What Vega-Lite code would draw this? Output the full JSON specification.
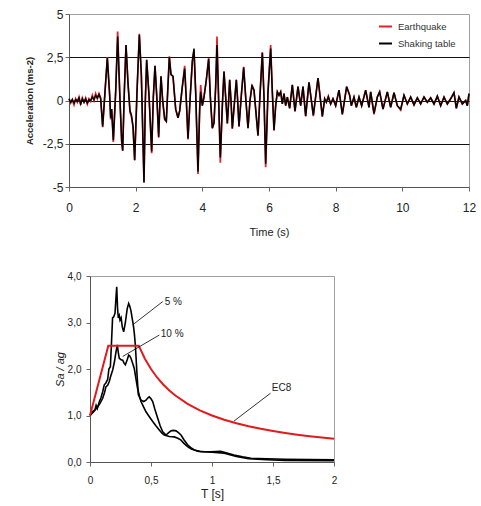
{
  "$schema": "https://vega.github.io/schema/vega-lite/v6.json",
  "padding": {"left": 23, "top": 7, "right": 5, "bottom": 2},
  "background": "white",
  "columns": 1,
  "spacing": 32,
  "config": {
    "font": "Liberation Sans",
    "view": {"stroke": "#a0a0a0", "strokeWidth": 1},
    "axis": {"labelColor": "#222", "titleColor": "#222", "domainColor": "#555", "tickColor": "#666", "labelFont": "Liberation Sans", "titleFont": "Liberation Sans", "titleFontWeight": "normal"}
  },
  "datasets": {
    "acc": [
      {"t": 0.00, "Earthquake": 0.1, "Shaking table": 0.1},
      {"t": 0.05, "Earthquake": -0.15, "Shaking table": -0.1},
      {"t": 0.10, "Earthquake": 0.05, "Shaking table": 0.05},
      {"t": 0.15, "Earthquake": -0.25, "Shaking table": -0.15},
      {"t": 0.20, "Earthquake": 0.1, "Shaking table": 0.05},
      {"t": 0.25, "Earthquake": -0.1, "Shaking table": -0.05},
      {"t": 0.30, "Earthquake": 0.2, "Shaking table": 0.15},
      {"t": 0.35, "Earthquake": -0.25, "Shaking table": -0.2},
      {"t": 0.40, "Earthquake": 0.15, "Shaking table": 0.1},
      {"t": 0.45, "Earthquake": -0.1, "Shaking table": -0.1},
      {"t": 0.50, "Earthquake": 0.15, "Shaking table": 0.1},
      {"t": 0.55, "Earthquake": -0.2, "Shaking table": -0.15},
      {"t": 0.60, "Earthquake": 0.1, "Shaking table": 0.05},
      {"t": 0.65, "Earthquake": -0.05, "Shaking table": 0.0},
      {"t": 0.70, "Earthquake": 0.3, "Shaking table": 0.2},
      {"t": 0.75, "Earthquake": 0.0, "Shaking table": 0.05},
      {"t": 0.80, "Earthquake": 0.4, "Shaking table": 0.3},
      {"t": 0.85, "Earthquake": 0.1, "Shaking table": 0.15},
      {"t": 0.90, "Earthquake": 0.4, "Shaking table": 0.35},
      {"t": 0.95, "Earthquake": 0.15, "Shaking table": 0.1},
      {"t": 1.01, "Earthquake": -1.55, "Shaking table": -1.5},
      {"t": 1.08, "Earthquake": 0.5, "Shaking table": 0.5},
      {"t": 1.15, "Earthquake": 2.5, "Shaking table": 2.45},
      {"t": 1.22, "Earthquake": 0.3, "Shaking table": 0.3},
      {"t": 1.25, "Earthquake": -1.1, "Shaking table": -1.0},
      {"t": 1.28, "Earthquake": -0.5, "Shaking table": -0.5},
      {"t": 1.33, "Earthquake": -2.4, "Shaking table": -2.3},
      {"t": 1.40, "Earthquake": 0.5, "Shaking table": 0.5},
      {"t": 1.46, "Earthquake": 3.99, "Shaking table": 3.7},
      {"t": 1.53, "Earthquake": 0.0, "Shaking table": 0.0},
      {"t": 1.58, "Earthquake": -2.4, "Shaking table": -2.3},
      {"t": 1.61, "Earthquake": -2.9, "Shaking table": -2.9},
      {"t": 1.66, "Earthquake": 0.5, "Shaking table": 0.5},
      {"t": 1.71, "Earthquake": 3.2, "Shaking table": 3.2},
      {"t": 1.77, "Earthquake": 1.0, "Shaking table": 1.0},
      {"t": 1.83, "Earthquake": -0.7, "Shaking table": -0.6},
      {"t": 1.87, "Earthquake": -0.9, "Shaking table": -0.8},
      {"t": 1.92, "Earthquake": -1.5, "Shaking table": -1.5},
      {"t": 1.97, "Earthquake": -3.45, "Shaking table": -3.45},
      {"t": 2.04, "Earthquake": 0.5, "Shaking table": 0.5},
      {"t": 2.11, "Earthquake": 3.85, "Shaking table": 3.8},
      {"t": 2.17, "Earthquake": 1.5, "Shaking table": 1.5},
      {"t": 2.25, "Earthquake": -4.7, "Shaking table": -4.75},
      {"t": 2.29, "Earthquake": 0.0, "Shaking table": 0.0},
      {"t": 2.33, "Earthquake": 2.35, "Shaking table": 2.35},
      {"t": 2.40, "Earthquake": 0.3, "Shaking table": 0.3},
      {"t": 2.48, "Earthquake": -3.05, "Shaking table": -2.95},
      {"t": 2.53, "Earthquake": 0.2, "Shaking table": 0.2},
      {"t": 2.58, "Earthquake": 2.0, "Shaking table": 2.0},
      {"t": 2.64, "Earthquake": 0.0, "Shaking table": 0.0},
      {"t": 2.69, "Earthquake": -2.15, "Shaking table": -2.1},
      {"t": 2.73, "Earthquake": 0.0, "Shaking table": 0.0},
      {"t": 2.76, "Earthquake": 1.4, "Shaking table": 1.4},
      {"t": 2.81, "Earthquake": 0.0, "Shaking table": 0.0},
      {"t": 2.87, "Earthquake": -1.1, "Shaking table": -1.05},
      {"t": 2.92, "Earthquake": -1.2, "Shaking table": -1.2},
      {"t": 2.96, "Earthquake": 0.5, "Shaking table": 0.5},
      {"t": 3.01, "Earthquake": 2.55, "Shaking table": 2.5},
      {"t": 3.06, "Earthquake": 1.5, "Shaking table": 1.5},
      {"t": 3.12, "Earthquake": 1.4, "Shaking table": 1.4},
      {"t": 3.20, "Earthquake": -0.5, "Shaking table": -0.5},
      {"t": 3.27, "Earthquake": -1.0, "Shaking table": -1.0},
      {"t": 3.32, "Earthquake": -0.6, "Shaking table": -0.6},
      {"t": 3.40, "Earthquake": 0.8, "Shaking table": 0.8},
      {"t": 3.47, "Earthquake": 2.0, "Shaking table": 1.85},
      {"t": 3.52, "Earthquake": 0.0, "Shaking table": 0.0},
      {"t": 3.57, "Earthquake": -2.25, "Shaking table": -2.2},
      {"t": 3.63, "Earthquake": 0.0, "Shaking table": 0.0},
      {"t": 3.70, "Earthquake": 2.2, "Shaking table": 2.3},
      {"t": 3.75, "Earthquake": 2.9, "Shaking table": 3.0},
      {"t": 3.80, "Earthquake": 0.5, "Shaking table": 0.5},
      {"t": 3.87, "Earthquake": -4.25, "Shaking table": -4.1},
      {"t": 3.92, "Earthquake": -0.5, "Shaking table": -0.5},
      {"t": 3.95, "Earthquake": 0.9, "Shaking table": 0.5},
      {"t": 4.00, "Earthquake": -0.3, "Shaking table": -0.3},
      {"t": 4.05, "Earthquake": 0.2, "Shaking table": 0.2},
      {"t": 4.12, "Earthquake": 1.2, "Shaking table": 1.2},
      {"t": 4.19, "Earthquake": 2.45, "Shaking table": 2.4},
      {"t": 4.24, "Earthquake": 0.2, "Shaking table": 0.2},
      {"t": 4.30, "Earthquake": -1.6, "Shaking table": -1.6},
      {"t": 4.35, "Earthquake": -1.3, "Shaking table": -1.3},
      {"t": 4.40, "Earthquake": 0.8, "Shaking table": 0.8},
      {"t": 4.44, "Earthquake": 3.7, "Shaking table": 3.2},
      {"t": 4.49, "Earthquake": 0.0, "Shaking table": 0.0},
      {"t": 4.54, "Earthquake": -3.6, "Shaking table": -3.3},
      {"t": 4.60, "Earthquake": -0.3, "Shaking table": -0.3},
      {"t": 4.65, "Earthquake": 1.7, "Shaking table": 1.65},
      {"t": 4.70, "Earthquake": 0.2, "Shaking table": 0.2},
      {"t": 4.75, "Earthquake": -1.35, "Shaking table": -1.3},
      {"t": 4.78, "Earthquake": -0.4, "Shaking table": -0.4},
      {"t": 4.82, "Earthquake": 1.2, "Shaking table": 1.2},
      {"t": 4.86, "Earthquake": 0.0, "Shaking table": 0.0},
      {"t": 4.90, "Earthquake": -1.65, "Shaking table": -1.6},
      {"t": 4.96, "Earthquake": -0.2, "Shaking table": -0.2},
      {"t": 5.02, "Earthquake": 1.2, "Shaking table": 1.2},
      {"t": 5.06, "Earthquake": 0.0, "Shaking table": 0.0},
      {"t": 5.10, "Earthquake": -1.5, "Shaking table": -1.5},
      {"t": 5.17, "Earthquake": 0.3, "Shaking table": 0.3},
      {"t": 5.24, "Earthquake": 1.95, "Shaking table": 1.9},
      {"t": 5.30, "Earthquake": 0.2, "Shaking table": 0.2},
      {"t": 5.37, "Earthquake": -1.6, "Shaking table": -1.6},
      {"t": 5.43, "Earthquake": 0.0, "Shaking table": 0.0},
      {"t": 5.49, "Earthquake": 0.9, "Shaking table": 0.85},
      {"t": 5.55, "Earthquake": 0.6, "Shaking table": 0.6},
      {"t": 5.60, "Earthquake": -0.5, "Shaking table": -0.5},
      {"t": 5.67, "Earthquake": -2.05, "Shaking table": -2.0},
      {"t": 5.73, "Earthquake": 0.3, "Shaking table": 0.3},
      {"t": 5.80, "Earthquake": 2.8, "Shaking table": 2.75},
      {"t": 5.85, "Earthquake": 0.2, "Shaking table": 0.2},
      {"t": 5.90, "Earthquake": -3.85, "Shaking table": -3.65},
      {"t": 5.97, "Earthquake": 0.5, "Shaking table": 0.5},
      {"t": 6.05, "Earthquake": 3.2, "Shaking table": 3.0},
      {"t": 6.10, "Earthquake": 0.5, "Shaking table": 0.5},
      {"t": 6.15, "Earthquake": -1.75, "Shaking table": -1.7},
      {"t": 6.20, "Earthquake": -0.3, "Shaking table": -0.3},
      {"t": 6.25, "Earthquake": 0.5, "Shaking table": 0.5},
      {"t": 6.30, "Earthquake": 0.3, "Shaking table": 0.3},
      {"t": 6.35, "Earthquake": 0.5, "Shaking table": 0.5},
      {"t": 6.40, "Earthquake": -0.2, "Shaking table": -0.2},
      {"t": 6.45, "Earthquake": 0.4, "Shaking table": 0.4},
      {"t": 6.50, "Earthquake": -0.3, "Shaking table": -0.3},
      {"t": 6.55, "Earthquake": 0.2, "Shaking table": 0.2},
      {"t": 6.62, "Earthquake": -0.45, "Shaking table": -0.45},
      {"t": 6.70, "Earthquake": 0.9, "Shaking table": 0.9},
      {"t": 6.78, "Earthquake": -0.65, "Shaking table": -0.6},
      {"t": 6.87, "Earthquake": 0.8, "Shaking table": 0.8},
      {"t": 6.95, "Earthquake": -0.3, "Shaking table": -0.3},
      {"t": 7.02, "Earthquake": 0.8, "Shaking table": 0.8},
      {"t": 7.10, "Earthquake": -0.9, "Shaking table": -0.9},
      {"t": 7.20, "Earthquake": 1.05, "Shaking table": 1.05},
      {"t": 7.33, "Earthquake": -0.9, "Shaking table": -0.85},
      {"t": 7.47, "Earthquake": 1.3, "Shaking table": 1.3},
      {"t": 7.60, "Earthquake": -0.95, "Shaking table": -0.9},
      {"t": 7.67, "Earthquake": 0.1, "Shaking table": 0.1},
      {"t": 7.72, "Earthquake": -0.1, "Shaking table": -0.1},
      {"t": 7.78, "Earthquake": 0.25, "Shaking table": 0.2},
      {"t": 7.85, "Earthquake": -0.2, "Shaking table": -0.2},
      {"t": 7.92, "Earthquake": 0.1, "Shaking table": 0.1},
      {"t": 8.00, "Earthquake": -0.3, "Shaking table": -0.3},
      {"t": 8.10, "Earthquake": 0.6, "Shaking table": 0.6},
      {"t": 8.20, "Earthquake": -0.8, "Shaking table": -0.8},
      {"t": 8.33, "Earthquake": 0.8, "Shaking table": 0.8},
      {"t": 8.42, "Earthquake": 0.3, "Shaking table": 0.3},
      {"t": 8.47, "Earthquake": -0.3, "Shaking table": -0.3},
      {"t": 8.55, "Earthquake": 0.2, "Shaking table": 0.2},
      {"t": 8.62, "Earthquake": -0.4, "Shaking table": -0.4},
      {"t": 8.70, "Earthquake": 0.2, "Shaking table": 0.2},
      {"t": 8.78, "Earthquake": -0.3, "Shaking table": -0.3},
      {"t": 8.90, "Earthquake": 0.6, "Shaking table": 0.6},
      {"t": 9.00, "Earthquake": -0.4, "Shaking table": -0.4},
      {"t": 9.05, "Earthquake": 0.5, "Shaking table": 0.5},
      {"t": 9.15, "Earthquake": -0.8, "Shaking table": -0.75},
      {"t": 9.25, "Earthquake": 0.2, "Shaking table": 0.2},
      {"t": 9.32, "Earthquake": 0.5, "Shaking table": 0.5},
      {"t": 9.42, "Earthquake": -0.5, "Shaking table": -0.5},
      {"t": 9.55, "Earthquake": 0.5, "Shaking table": 0.5},
      {"t": 9.65, "Earthquake": -0.4, "Shaking table": -0.4},
      {"t": 9.75, "Earthquake": 0.45, "Shaking table": 0.45},
      {"t": 9.85, "Earthquake": -0.3, "Shaking table": -0.3},
      {"t": 9.95, "Earthquake": -0.55, "Shaking table": -0.5},
      {"t": 10.05, "Earthquake": 0.3, "Shaking table": 0.3},
      {"t": 10.15, "Earthquake": -0.2, "Shaking table": -0.2},
      {"t": 10.25, "Earthquake": 0.2, "Shaking table": 0.2},
      {"t": 10.35, "Earthquake": -0.25, "Shaking table": -0.25},
      {"t": 10.45, "Earthquake": 0.15, "Shaking table": 0.15},
      {"t": 10.55, "Earthquake": -0.2, "Shaking table": -0.2},
      {"t": 10.65, "Earthquake": 0.2, "Shaking table": 0.2},
      {"t": 10.75, "Earthquake": -0.1, "Shaking table": -0.1},
      {"t": 10.85, "Earthquake": 0.15, "Shaking table": 0.15},
      {"t": 10.95, "Earthquake": -0.2, "Shaking table": -0.2},
      {"t": 11.05, "Earthquake": 0.25, "Shaking table": 0.25},
      {"t": 11.15, "Earthquake": -0.3, "Shaking table": -0.3},
      {"t": 11.25, "Earthquake": 0.2, "Shaking table": 0.2},
      {"t": 11.35, "Earthquake": -0.2, "Shaking table": -0.2},
      {"t": 11.45, "Earthquake": 0.1, "Shaking table": 0.1},
      {"t": 11.55, "Earthquake": 0.45, "Shaking table": 0.45},
      {"t": 11.62, "Earthquake": -0.45, "Shaking table": -0.45},
      {"t": 11.70, "Earthquake": 0.2, "Shaking table": 0.2},
      {"t": 11.80, "Earthquake": -0.2, "Shaking table": -0.2},
      {"t": 11.90, "Earthquake": 0.0, "Shaking table": 0.0},
      {"t": 11.95, "Earthquake": -0.3, "Shaking table": -0.3},
      {"t": 12.00, "Earthquake": 0.4, "Shaking table": 0.4}
    ],
    "spec": [
      {"c": "5 %", "T": 0, "Sa": 1.0},
      {"c": "5 %", "T": 0.02, "Sa": 1.08},
      {"c": "5 %", "T": 0.04, "Sa": 1.12},
      {"c": "5 %", "T": 0.05, "Sa": 1.22},
      {"c": "5 %", "T": 0.06, "Sa": 1.15},
      {"c": "5 %", "T": 0.077, "Sa": 1.30},
      {"c": "5 %", "T": 0.09, "Sa": 1.38},
      {"c": "5 %", "T": 0.104, "Sa": 1.51},
      {"c": "5 %", "T": 0.117, "Sa": 1.66},
      {"c": "5 %", "T": 0.13, "Sa": 1.70},
      {"c": "5 %", "T": 0.145, "Sa": 1.78},
      {"c": "5 %", "T": 0.155, "Sa": 2.0},
      {"c": "5 %", "T": 0.167, "Sa": 2.05},
      {"c": "5 %", "T": 0.175, "Sa": 2.5},
      {"c": "5 %", "T": 0.185, "Sa": 3.1},
      {"c": "5 %", "T": 0.194, "Sa": 3.12},
      {"c": "5 %", "T": 0.205, "Sa": 3.2},
      {"c": "5 %", "T": 0.212, "Sa": 3.5},
      {"c": "5 %", "T": 0.219, "Sa": 3.77},
      {"c": "5 %", "T": 0.226, "Sa": 3.3},
      {"c": "5 %", "T": 0.232, "Sa": 3.1},
      {"c": "5 %", "T": 0.240, "Sa": 3.15},
      {"c": "5 %", "T": 0.246, "Sa": 3.05},
      {"c": "5 %", "T": 0.255, "Sa": 3.1},
      {"c": "5 %", "T": 0.265, "Sa": 2.9},
      {"c": "5 %", "T": 0.276, "Sa": 2.8},
      {"c": "5 %", "T": 0.29, "Sa": 3.0},
      {"c": "5 %", "T": 0.305, "Sa": 3.3},
      {"c": "5 %", "T": 0.317, "Sa": 3.41},
      {"c": "5 %", "T": 0.326, "Sa": 3.35},
      {"c": "5 %", "T": 0.336, "Sa": 3.25},
      {"c": "5 %", "T": 0.345, "Sa": 3.1},
      {"c": "5 %", "T": 0.355, "Sa": 2.95},
      {"c": "5 %", "T": 0.364, "Sa": 2.75},
      {"c": "5 %", "T": 0.372, "Sa": 2.5},
      {"c": "5 %", "T": 0.385, "Sa": 1.9},
      {"c": "5 %", "T": 0.396, "Sa": 1.45},
      {"c": "5 %", "T": 0.418, "Sa": 1.33},
      {"c": "5 %", "T": 0.44, "Sa": 1.3},
      {"c": "5 %", "T": 0.459, "Sa": 1.33},
      {"c": "5 %", "T": 0.475, "Sa": 1.38},
      {"c": "5 %", "T": 0.486, "Sa": 1.40},
      {"c": "5 %", "T": 0.50, "Sa": 1.36},
      {"c": "5 %", "T": 0.514, "Sa": 1.30},
      {"c": "5 %", "T": 0.53, "Sa": 1.15},
      {"c": "5 %", "T": 0.555, "Sa": 0.94},
      {"c": "5 %", "T": 0.575, "Sa": 0.78},
      {"c": "5 %", "T": 0.596, "Sa": 0.65},
      {"c": "5 %", "T": 0.623, "Sa": 0.58},
      {"c": "5 %", "T": 0.645, "Sa": 0.63},
      {"c": "5 %", "T": 0.664, "Sa": 0.67},
      {"c": "5 %", "T": 0.685, "Sa": 0.68},
      {"c": "5 %", "T": 0.705, "Sa": 0.67},
      {"c": "5 %", "T": 0.725, "Sa": 0.63},
      {"c": "5 %", "T": 0.746, "Sa": 0.58},
      {"c": "5 %", "T": 0.77, "Sa": 0.48},
      {"c": "5 %", "T": 0.80, "Sa": 0.37},
      {"c": "5 %", "T": 0.83, "Sa": 0.30},
      {"c": "5 %", "T": 0.855, "Sa": 0.26},
      {"c": "5 %", "T": 0.88, "Sa": 0.23},
      {"c": "5 %", "T": 0.91, "Sa": 0.22},
      {"c": "5 %", "T": 0.99, "Sa": 0.22},
      {"c": "5 %", "T": 1.07, "Sa": 0.23},
      {"c": "5 %", "T": 1.10, "Sa": 0.21},
      {"c": "5 %", "T": 1.18, "Sa": 0.15},
      {"c": "5 %", "T": 1.25, "Sa": 0.11},
      {"c": "5 %", "T": 1.32, "Sa": 0.08},
      {"c": "5 %", "T": 1.45, "Sa": 0.07},
      {"c": "5 %", "T": 1.6, "Sa": 0.06},
      {"c": "5 %", "T": 2.0, "Sa": 0.05},
      {"c": "10 %", "T": 0, "Sa": 1.0},
      {"c": "10 %", "T": 0.03, "Sa": 1.08},
      {"c": "10 %", "T": 0.063, "Sa": 1.19},
      {"c": "10 %", "T": 0.08, "Sa": 1.25},
      {"c": "10 %", "T": 0.104, "Sa": 1.37},
      {"c": "10 %", "T": 0.12, "Sa": 1.5},
      {"c": "10 %", "T": 0.131, "Sa": 1.62},
      {"c": "10 %", "T": 0.145, "Sa": 1.65},
      {"c": "10 %", "T": 0.158, "Sa": 1.73},
      {"c": "10 %", "T": 0.17, "Sa": 1.85},
      {"c": "10 %", "T": 0.186, "Sa": 1.98},
      {"c": "10 %", "T": 0.20, "Sa": 2.15},
      {"c": "10 %", "T": 0.213, "Sa": 2.37},
      {"c": "10 %", "T": 0.224, "Sa": 2.52},
      {"c": "10 %", "T": 0.232, "Sa": 2.35},
      {"c": "10 %", "T": 0.24, "Sa": 2.23},
      {"c": "10 %", "T": 0.255, "Sa": 2.2},
      {"c": "10 %", "T": 0.268, "Sa": 2.19},
      {"c": "10 %", "T": 0.28, "Sa": 2.12},
      {"c": "10 %", "T": 0.29, "Sa": 2.09},
      {"c": "10 %", "T": 0.305, "Sa": 2.2},
      {"c": "10 %", "T": 0.317, "Sa": 2.30},
      {"c": "10 %", "T": 0.326, "Sa": 2.28},
      {"c": "10 %", "T": 0.336, "Sa": 2.23},
      {"c": "10 %", "T": 0.35, "Sa": 2.12},
      {"c": "10 %", "T": 0.363, "Sa": 2.01},
      {"c": "10 %", "T": 0.376, "Sa": 1.8},
      {"c": "10 %", "T": 0.39, "Sa": 1.58},
      {"c": "10 %", "T": 0.405, "Sa": 1.42},
      {"c": "10 %", "T": 0.418, "Sa": 1.30},
      {"c": "10 %", "T": 0.44, "Sa": 1.18},
      {"c": "10 %", "T": 0.459, "Sa": 1.08},
      {"c": "10 %", "T": 0.485, "Sa": 0.98},
      {"c": "10 %", "T": 0.514, "Sa": 0.87},
      {"c": "10 %", "T": 0.54, "Sa": 0.78},
      {"c": "10 %", "T": 0.568, "Sa": 0.69},
      {"c": "10 %", "T": 0.59, "Sa": 0.62},
      {"c": "10 %", "T": 0.609, "Sa": 0.58},
      {"c": "10 %", "T": 0.65, "Sa": 0.55},
      {"c": "10 %", "T": 0.691, "Sa": 0.54},
      {"c": "10 %", "T": 0.72, "Sa": 0.51},
      {"c": "10 %", "T": 0.746, "Sa": 0.47},
      {"c": "10 %", "T": 0.77, "Sa": 0.40},
      {"c": "10 %", "T": 0.80, "Sa": 0.33},
      {"c": "10 %", "T": 0.83, "Sa": 0.28},
      {"c": "10 %", "T": 0.855, "Sa": 0.26},
      {"c": "10 %", "T": 0.90, "Sa": 0.23},
      {"c": "10 %", "T": 0.937, "Sa": 0.22},
      {"c": "10 %", "T": 1.0, "Sa": 0.21},
      {"c": "10 %", "T": 1.1, "Sa": 0.19},
      {"c": "10 %", "T": 1.2, "Sa": 0.12},
      {"c": "10 %", "T": 1.3, "Sa": 0.07},
      {"c": "10 %", "T": 1.45, "Sa": 0.05},
      {"c": "10 %", "T": 1.6, "Sa": 0.035},
      {"c": "10 %", "T": 2.0, "Sa": 0.03}
    ],
    "ec8": [
      {"T": 0, "Sa": 1.0},
      {"T": 0.15, "Sa": 2.5},
      {"T": 0.4, "Sa": 2.5},
      {"T": 0.45, "Sa": 2.222},
      {"T": 0.5, "Sa": 2.0},
      {"T": 0.55, "Sa": 1.818},
      {"T": 0.6, "Sa": 1.667},
      {"T": 0.65, "Sa": 1.538},
      {"T": 0.7, "Sa": 1.429},
      {"T": 0.8, "Sa": 1.25},
      {"T": 0.9, "Sa": 1.111},
      {"T": 1.0, "Sa": 1.0},
      {"T": 1.1, "Sa": 0.909},
      {"T": 1.2, "Sa": 0.833},
      {"T": 1.3, "Sa": 0.769},
      {"T": 1.4, "Sa": 0.714},
      {"T": 1.5, "Sa": 0.667},
      {"T": 1.6, "Sa": 0.625},
      {"T": 1.7, "Sa": 0.588},
      {"T": 1.8, "Sa": 0.556},
      {"T": 1.9, "Sa": 0.526},
      {"T": 2.0, "Sa": 0.5}
    ],
    "ann": [
      {"label": "5 %", "T1": 0.35, "S1": 2.95, "T2": 0.596, "S2": 3.45, "TT": 0.612, "ST": 3.45},
      {"label": "10 %", "T1": 0.268, "S1": 2.27, "T2": 0.568, "S2": 2.73, "TT": 0.58, "ST": 2.75},
      {"label": "EC8", "T1": 1.18, "S1": 0.88, "T2": 1.48, "S2": 1.48, "TT": 1.49, "ST": 1.6}
    ]
  },
  "concat": [
    {
      "width": 400,
      "height": 173,
      "data": {"name": "acc"},
      "encoding": {
        "x": {
          "field": "t", "type": "quantitative",
          "scale": {"domain": [0, 12], "nice": false},
          "axis": {"values": [0, 2, 4, 6, 8, 10, 12], "title": "Time (s)", "grid": false, "tickSize": 4, "labelPadding": 11, "titlePadding": 13, "labelFontSize": 12, "titleFontSize": 11, "labelFlush": false}
        }
      },
      "layer": [
        {
          "mark": {"type": "line", "strokeWidth": 1.7},
          "encoding": {
            "y": {
              "field": "Earthquake", "type": "quantitative",
              "scale": {"domain": [-5, 5], "nice": false},
              "axis": {
                "values": [-5, -2.5, 0, 2.5, 5],
                "title": "Acceleration (ms-2)",
                "labelExpr": "replace(toString(datum.value), '.', ',')",
                "grid": true,
                "gridColor": {"condition": {"test": "abs(datum.value) == 5", "value": "transparent"}, "value": "#111"},
                "gridWidth": 1,
                "tickSize": 4, "labelPadding": 2, "titlePadding": 8,
                "labelFontSize": 12, "titleFontSize": 9.5, "titleFontWeight": "bold"
              }
            },
            "color": {
              "datum": "Earthquake",
              "scale": {"domain": ["Earthquake", "Shaking table"], "range": ["#e8202a", "#000000"]},
              "legend": {"title": null, "orient": "none", "legendX": 309, "legendY": 5, "padding": 0, "symbolType": "stroke", "symbolStrokeWidth": 2, "symbolSize": 169, "labelFontSize": 9.5, "labelOffset": 5, "rowPadding": 5, "labelColor": "#333"}
            }
          }
        },
        {
          "mark": {"type": "line", "strokeWidth": 1.5},
          "encoding": {
            "y": {"field": "Shaking table", "type": "quantitative", "title": "Acceleration (ms-2)"},
            "color": {"datum": "Shaking table"}
          }
        }
      ]
    },
    {
      "spacing": 20,
      "bounds": "flush",
      "hconcat": [
        {
          "width": 1, "height": 1,
          "view": {"stroke": null},
          "data": {"values": [{}]},
          "mark": {"type": "text", "text": ""}
        },
        {
          "width": 244,
          "height": 186,
          "layer": [
            {
              "data": {"name": "spec"},
              "mark": {"type": "line", "color": "#000", "strokeWidth": 1.6},
              "encoding": {
                "x": {
                  "field": "T", "type": "quantitative",
                  "scale": {"domain": [0, 2], "nice": false},
                  "axis": {"values": [0, 0.5, 1, 1.5, 2], "title": "T [s]", "labelExpr": "replace(toString(datum.value), '.', ',')", "grid": false, "tickSize": 4, "labelPadding": 9, "titlePadding": 3, "labelFontSize": 10, "titleFontSize": 12, "labelFlush": false}
                },
                "y": {
                  "field": "Sa", "type": "quantitative",
                  "scale": {"domain": [0, 4], "nice": false},
                  "axis": {"values": [0, 1, 2, 3, 4], "title": "Sa / ag", "labelExpr": "replace(format(datum.value, '.1f'), '.', ',')", "grid": false, "tickSize": 4, "labelPadding": 5, "titlePadding": 2, "labelFontSize": 10, "titleFontSize": 11, "titleFontStyle": "italic"}
                },
                "detail": {"field": "c"}
              }
            },
            {
              "data": {"name": "ec8"},
              "mark": {"type": "line", "color": "#e31a1c", "strokeWidth": 2},
              "encoding": {
                "x": {"field": "T", "type": "quantitative"},
                "y": {"field": "Sa", "type": "quantitative"}
              }
            },
            {
              "data": {"name": "ann"},
              "mark": {"type": "rule", "color": "#000", "strokeWidth": 0.8},
              "encoding": {
                "x": {"field": "T1", "type": "quantitative"},
                "y": {"field": "S1", "type": "quantitative"},
                "x2": {"field": "T2"},
                "y2": {"field": "S2"}
              }
            },
            {
              "data": {"name": "ann"},
              "mark": {"type": "text", "align": "left", "baseline": "middle", "fontSize": 10, "color": "#222"},
              "encoding": {
                "x": {"field": "TT", "type": "quantitative"},
                "y": {"field": "ST", "type": "quantitative"},
                "text": {"field": "label"}
              }
            }
          ]
        }
      ]
    }
  ]
}
